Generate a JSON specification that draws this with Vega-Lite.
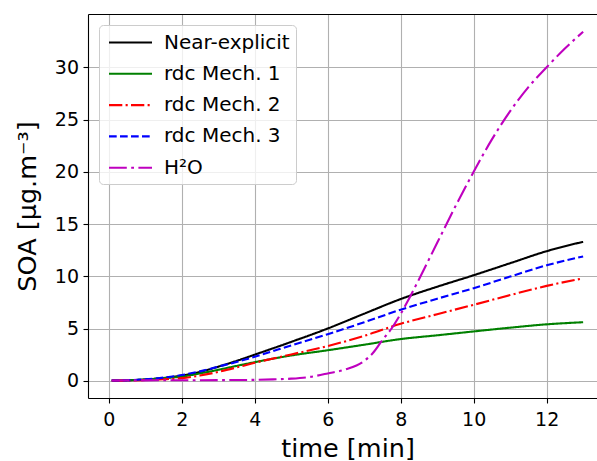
{
  "$schema": "https://vega.github.io/schema/vega-lite/v6.json",
  "width": 509,
  "height": 384,
  "autosize": {"type": "none"},
  "padding": {"left": 88, "top": 14, "right": 0, "bottom": 63},
  "background": "white",
  "config": {
    "view": {"stroke": null},
    "font": "DejaVu Sans",
    "axis": {
      "labelFont": "DejaVu Sans",
      "titleFont": "DejaVu Sans",
      "labelFontSize": 19,
      "titleFontSize": 25.5,
      "labelColor": "black",
      "titleColor": "black",
      "titleFontWeight": "normal",
      "domainColor": "black",
      "domainWidth": 1.1,
      "tickColor": "black",
      "tickWidth": 1.1,
      "tickSize": 5,
      "gridColor": "#b0b0b0",
      "gridWidth": 1.1,
      "gridOpacity": 1
    },
    "legend": {
      "labelFont": "DejaVu Sans",
      "labelFontSize": 20,
      "labelColor": "black",
      "labelLimit": 300
    }
  },
  "data": {
    "values": [
      {"series": "Near-explicit", "t": 0.08, "v": 0.02},
      {"series": "Near-explicit", "t": 0.5, "v": 0.04},
      {"series": "Near-explicit", "t": 1, "v": 0.12},
      {"series": "Near-explicit", "t": 1.5, "v": 0.27},
      {"series": "Near-explicit", "t": 2, "v": 0.5},
      {"series": "Near-explicit", "t": 2.5, "v": 0.85},
      {"series": "Near-explicit", "t": 3, "v": 1.35},
      {"series": "Near-explicit", "t": 3.5, "v": 1.9},
      {"series": "Near-explicit", "t": 4, "v": 2.5},
      {"series": "Near-explicit", "t": 5, "v": 3.72},
      {"series": "Near-explicit", "t": 6, "v": 5.0},
      {"series": "Near-explicit", "t": 7, "v": 6.42},
      {"series": "Near-explicit", "t": 8, "v": 7.82},
      {"series": "Near-explicit", "t": 9, "v": 9.0},
      {"series": "Near-explicit", "t": 10, "v": 10.1},
      {"series": "Near-explicit", "t": 11, "v": 11.25},
      {"series": "Near-explicit", "t": 12, "v": 12.4},
      {"series": "Near-explicit", "t": 13, "v": 13.3},

      {"series": "rdc Mech. 1", "t": 0.08, "v": 0.02},
      {"series": "rdc Mech. 1", "t": 0.5, "v": 0.05},
      {"series": "rdc Mech. 1", "t": 1, "v": 0.12},
      {"series": "rdc Mech. 1", "t": 1.5, "v": 0.25},
      {"series": "rdc Mech. 1", "t": 2, "v": 0.4},
      {"series": "rdc Mech. 1", "t": 2.5, "v": 0.7},
      {"series": "rdc Mech. 1", "t": 3, "v": 1.05},
      {"series": "rdc Mech. 1", "t": 3.5, "v": 1.42},
      {"series": "rdc Mech. 1", "t": 4, "v": 1.78},
      {"series": "rdc Mech. 1", "t": 5, "v": 2.42},
      {"series": "rdc Mech. 1", "t": 6, "v": 2.92},
      {"series": "rdc Mech. 1", "t": 7, "v": 3.45},
      {"series": "rdc Mech. 1", "t": 8, "v": 3.99},
      {"series": "rdc Mech. 1", "t": 9, "v": 4.35},
      {"series": "rdc Mech. 1", "t": 10, "v": 4.72},
      {"series": "rdc Mech. 1", "t": 11, "v": 5.08},
      {"series": "rdc Mech. 1", "t": 12, "v": 5.4},
      {"series": "rdc Mech. 1", "t": 13, "v": 5.6},

      {"series": "rdc Mech. 2", "t": 0.08, "v": 0.01},
      {"series": "rdc Mech. 2", "t": 0.5, "v": 0.02},
      {"series": "rdc Mech. 2", "t": 1, "v": 0.07},
      {"series": "rdc Mech. 2", "t": 1.5, "v": 0.14},
      {"series": "rdc Mech. 2", "t": 2, "v": 0.25},
      {"series": "rdc Mech. 2", "t": 2.5, "v": 0.5},
      {"series": "rdc Mech. 2", "t": 3, "v": 0.85},
      {"series": "rdc Mech. 2", "t": 3.5, "v": 1.27},
      {"series": "rdc Mech. 2", "t": 4, "v": 1.72},
      {"series": "rdc Mech. 2", "t": 5, "v": 2.52},
      {"series": "rdc Mech. 2", "t": 6, "v": 3.32},
      {"series": "rdc Mech. 2", "t": 7, "v": 4.3},
      {"series": "rdc Mech. 2", "t": 8, "v": 5.45},
      {"series": "rdc Mech. 2", "t": 9, "v": 6.37},
      {"series": "rdc Mech. 2", "t": 10, "v": 7.27},
      {"series": "rdc Mech. 2", "t": 11, "v": 8.2},
      {"series": "rdc Mech. 2", "t": 12, "v": 9.08},
      {"series": "rdc Mech. 2", "t": 13, "v": 9.8},

      {"series": "rdc Mech. 3", "t": 0.08, "v": 0.02},
      {"series": "rdc Mech. 3", "t": 0.5, "v": 0.05},
      {"series": "rdc Mech. 3", "t": 1, "v": 0.14},
      {"series": "rdc Mech. 3", "t": 1.5, "v": 0.3},
      {"series": "rdc Mech. 3", "t": 2, "v": 0.55},
      {"series": "rdc Mech. 3", "t": 2.5, "v": 0.9},
      {"series": "rdc Mech. 3", "t": 3, "v": 1.35},
      {"series": "rdc Mech. 3", "t": 3.5, "v": 1.8},
      {"series": "rdc Mech. 3", "t": 4, "v": 2.3},
      {"series": "rdc Mech. 3", "t": 5, "v": 3.38},
      {"series": "rdc Mech. 3", "t": 6, "v": 4.45},
      {"series": "rdc Mech. 3", "t": 7, "v": 5.6},
      {"series": "rdc Mech. 3", "t": 8, "v": 6.8},
      {"series": "rdc Mech. 3", "t": 9, "v": 7.85},
      {"series": "rdc Mech. 3", "t": 10, "v": 8.86},
      {"series": "rdc Mech. 3", "t": 11, "v": 9.97},
      {"series": "rdc Mech. 3", "t": 12, "v": 11.05},
      {"series": "rdc Mech. 3", "t": 13, "v": 11.9},

      {"series": "H²O", "t": 0.08, "v": 0.03},
      {"series": "H²O", "t": 1, "v": 0.04},
      {"series": "H²O", "t": 2, "v": 0.05},
      {"series": "H²O", "t": 3, "v": 0.06},
      {"series": "H²O", "t": 4, "v": 0.09},
      {"series": "H²O", "t": 4.5, "v": 0.13},
      {"series": "H²O", "t": 5, "v": 0.2},
      {"series": "H²O", "t": 5.5, "v": 0.36},
      {"series": "H²O", "t": 6, "v": 0.7},
      {"series": "H²O", "t": 6.5, "v": 1.1},
      {"series": "H²O", "t": 7, "v": 1.9},
      {"series": "H²O", "t": 7.25, "v": 2.7},
      {"series": "H²O", "t": 7.5, "v": 3.9},
      {"series": "H²O", "t": 7.75, "v": 5.0},
      {"series": "H²O", "t": 8, "v": 6.4},
      {"series": "H²O", "t": 8.25, "v": 8.0},
      {"series": "H²O", "t": 8.5, "v": 9.7},
      {"series": "H²O", "t": 9, "v": 13.2},
      {"series": "H²O", "t": 9.5, "v": 16.7},
      {"series": "H²O", "t": 10, "v": 20.0},
      {"series": "H²O", "t": 10.5, "v": 23.1},
      {"series": "H²O", "t": 11, "v": 25.8},
      {"series": "H²O", "t": 11.5, "v": 28.1},
      {"series": "H²O", "t": 12, "v": 30.0},
      {"series": "H²O", "t": 12.5, "v": 31.8},
      {"series": "H²O", "t": 13, "v": 33.4}
    ]
  },
  "layer": [
    {
      "mark": {"type": "line", "interpolate": "monotone", "clip": true},
      "encoding": {
        "x": {
          "field": "t", "type": "quantitative",
          "scale": {"domain": [-0.57, 13.38], "nice": false, "zero": false},
          "axis": {
            "values": [0, 2, 4, 6, 8, 10, 12],
            "title": "time [min]",
            "labelPadding": 7.5,
            "titleX": 259.5,
            "titleY": 58,
            "titleAlign": "center",
            "titleBaseline": "alphabetic"
          }
        },
        "y": {
          "field": "v", "type": "quantitative",
          "scale": {"domain": [-1.65, 35.1], "nice": false, "zero": false},
          "axis": {
            "values": [0, 5, 10, 15, 20, 25, 30],
            "title": "SOA [μg.m⁻³]",
            "labelPadding": 4.5,
            "titleX": -53,
            "titleY": 192,
            "titleAngle": 270,
            "titleAlign": "center",
            "titleBaseline": "alphabetic"
          }
        },
        "color": {
          "field": "series", "type": "nominal",
          "scale": {
            "domain": ["Near-explicit", "rdc Mech. 1", "rdc Mech. 2", "rdc Mech. 3", "H²O"],
            "range": ["#000000", "#008000", "#ff0000", "#0000ff", "#bf00bf"]
          },
          "legend": {
            "title": null,
            "orient": "top-left",
            "offset": 11,
            "padding": 6,
            "rowPadding": 9.3,
            "symbolType": "M-2.15,0H2.15",
            "symbolSize": 400,
            "symbolOffset": 14,
            "symbolStrokeWidth": 2.1,
            "labelOffset": 22,
            "fillColor": "rgba(255,255,255,0.8)",
            "strokeColor": "#cccccc",
            "cornerRadius": 4
          }
        },
        "strokeDash": {
          "field": "series", "type": "nominal",
          "scale": {
            "domain": ["Near-explicit", "rdc Mech. 1", "rdc Mech. 2", "rdc Mech. 3", "H²O"],
            "range": [[1, 0], [1, 0], [13.3, 3.3, 2.1, 3.3], [7.7, 3.3], [17.8, 4.4, 2.8, 4.4]]
          },
          "legend": null
        },
        "strokeWidth": {
          "field": "series", "type": "nominal",
          "scale": {
            "domain": ["Near-explicit", "rdc Mech. 1", "rdc Mech. 2", "rdc Mech. 3", "H²O"],
            "range": [2.1, 2.1, 2.1, 2.1, 2.8]
          },
          "legend": null
        }
      }
    },
    {
      "mark": {"type": "rule", "opacity": 0},
      "encoding": {
        "x": {
          "field": "t", "type": "quantitative",
          "axis": {"orient": "top", "labels": false, "ticks": false, "grid": false, "title": null, "domain": true}
        }
      }
    }
  ],
  "resolve": {"axis": {"x": "independent"}}
}
